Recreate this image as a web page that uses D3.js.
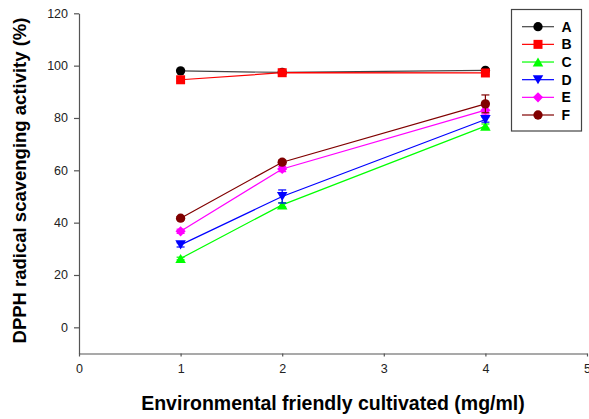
<!DOCTYPE html>
<html>
<head>
<meta charset="utf-8">
<style>
  body { margin: 0; background: #fff; }
  svg { font-family: "Liberation Sans", Arial, sans-serif; }
</style>
</head>
<body>
<div id="chart"></div>
<script src="https://cdn.jsdelivr.net/npm/d3@7"></script>
<script>
// data
var doses = [1, 2, 4];
var seriesNames = ["A", "B", "C", "D", "E", "F"];
var seriesColors = ["#000000", "#ff0000", "#00ff00", "#0000ff", "#ff00ff", "#800000"];
var lineColors = ["#444444", "#ff0000", "#00ff00", "#0000ff", "#ff00ff", "#800000"];
var valuesA = [98.0, 97.4, 98.2];
var valuesB = [94.6, 97.3, 97.2];
var valuesC = [26.3, 46.8, 76.9];
var valuesD = [31.5, 50.0, 79.4];
var valuesE = [36.7, 60.5, 83.0];
var valuesF = [41.7, 63.1, 85.4];
var errA = [0.3, 0.3, 0.5];
var errB = [0.5, 0.5, 0.5];
var errC = [0.5, 0.8, 0.8];
var errD = [0.8, 2.5, 1.0];
var errE = [0.8, 1.0, 1.5];
var errF = [0.6, 0.8, 3.4];
var xTicks = [0, 1, 2, 3, 4, 5];
var yTicks = [0, 20, 40, 60, 80, 100, 120];

var allValues = [valuesA, valuesB, valuesC, valuesD, valuesE, valuesF];
var allErr = [errA, errB, errC, errD, errE, errF];

var width = 589, height = 419;

var svg = d3.select("#chart")
  .append("svg")
    .attr("width", width)
    .attr("height", height);

var x = d3.scaleLinear().domain([0, 5]).range([79, 587]);
var y = d3.scaleLinear().domain([-10, 120]).range([353.5, 13.3]);

// axes
var xAxis = svg.append("g")
    .attr("transform", "translate(0," + y(-10) + ")")
    .call(d3.axisBottom(x).tickValues(xTicks).tickFormat(d3.format("d"))
      .tickSize(3).tickPadding(8).tickSizeOuter(0));
var yAxis = svg.append("g")
    .attr("transform", "translate(" + x(0) + ",0)")
    .call(d3.axisLeft(y).tickValues(yTicks).tickFormat(d3.format("d"))
      .tickSize(5).tickPadding(6).tickSizeOuter(0));

[xAxis, yAxis].forEach(function(a) {
  a.selectAll("path, line").attr("stroke", "#555").attr("stroke-width", 1.2);
  a.selectAll("text")
    .attr("fill", "#222")
    .style("font-size", "12.5px")
    .style("font-family", "'Liberation Sans', Arial, sans-serif");
});

// axis titles
svg.append("text")
    .attr("x", 333)
    .attr("y", 410)
    .attr("text-anchor", "middle")
    .style("font-weight", "bold")
    .style("font-size", "19.5px")
    .text("Environmental friendly cultivated (mg/ml)");

svg.append("text")
    .attr("transform", "translate(26,180.5) rotate(-90)")
    .attr("text-anchor", "middle")
    .style("font-weight", "bold")
    .style("font-size", "18.5px")
    .text("DPPH radical scavenging activity (%)");

// marker shapes
function markerPath(i) {
  var sym;
  if (i === 0) sym = d3.symbol().type(d3.symbolCircle).size(68);
  else if (i === 1) sym = d3.symbol().type(d3.symbolSquare).size(81);
  else if (i === 2 || i === 3) sym = d3.symbol().type(d3.symbolTriangle).size(48);
  else if (i === 4) sym = d3.symbol().type(d3.symbolSquare).size(52);
  else sym = d3.symbol().type(d3.symbolCircle).size(68);
  return sym();
}
function markerRotate(i) {
  if (i === 3) return " rotate(180)";
  if (i === 4) return " rotate(45)";
  return "";
}

var line = d3.line()
    .x(function(d) { return x(d[0]); })
    .y(function(d) { return y(d[1]); });

seriesNames.forEach(function(name, i) {
  var pts = doses.map(function(dv, j) { return [dv, allValues[i][j], allErr[i][j]]; });
  var g = svg.append("g");

  g.append("path")
      .datum(pts)
      .attr("fill", "none")
      .attr("stroke", lineColors[i])
      .attr("stroke-width", 1.2)
      .attr("d", line);

  // error bars
  var eb = g.selectAll(".err")
    .data(pts)
    .enter().append("g");
  eb.append("line")
      .attr("x1", function(d) { return x(d[0]); })
      .attr("x2", function(d) { return x(d[0]); })
      .attr("y1", function(d) { return y(d[1] - d[2]); })
      .attr("y2", function(d) { return y(d[1] + d[2]); })
      .attr("stroke", seriesColors[i]).attr("stroke-width", 1.2);
  [1, -1].forEach(function(s) {
    eb.append("line")
        .attr("x1", function(d) { return x(d[0]) - 4; })
        .attr("x2", function(d) { return x(d[0]) + 4; })
        .attr("y1", function(d) { return y(d[1] + s * d[2]); })
        .attr("y2", function(d) { return y(d[1] + s * d[2]); })
        .attr("stroke", seriesColors[i]).attr("stroke-width", 1.2);
  });

  g.selectAll(".pt")
    .data(pts)
    .enter().append("path")
      .attr("transform", function(d) {
        var dy = (i === 2) ? 1.5 : (i === 3 ? -1.5 : 0);
        return "translate(" + x(d[0]) + "," + (y(d[1]) + dy) + ")" + markerRotate(i);
      })
      .attr("d", markerPath(i))
      .attr("fill", seriesColors[i]);
});

// legend
var legend = svg.append("g");
legend.append("rect")
    .attr("x", 511.5).attr("y", 9.5)
    .attr("width", 70).attr("height", 121.5)
    .attr("fill", "#fff")
    .attr("stroke", "#444")
    .attr("stroke-width", 1.2);

seriesNames.forEach(function(name, i) {
  var ly = 26.7 + i * 17.66;
  legend.append("line")
      .attr("x1", 522).attr("x2", 554)
      .attr("y1", ly).attr("y2", ly)
      .attr("stroke", lineColors[i]).attr("stroke-width", 1.2);
  var dy = (i === 2) ? 1.5 : (i === 3 ? -1.5 : 0);
  legend.append("path")
      .attr("transform", "translate(538," + (ly + dy) + ")" + markerRotate(i))
      .attr("d", markerPath(i))
      .attr("fill", seriesColors[i]);
  legend.append("text")
      .attr("x", 561.5)
      .attr("y", ly + 5)
      .style("font-weight", "bold")
      .style("font-size", "14px")
      .text(name);
});
</script>
</body>
</html>
